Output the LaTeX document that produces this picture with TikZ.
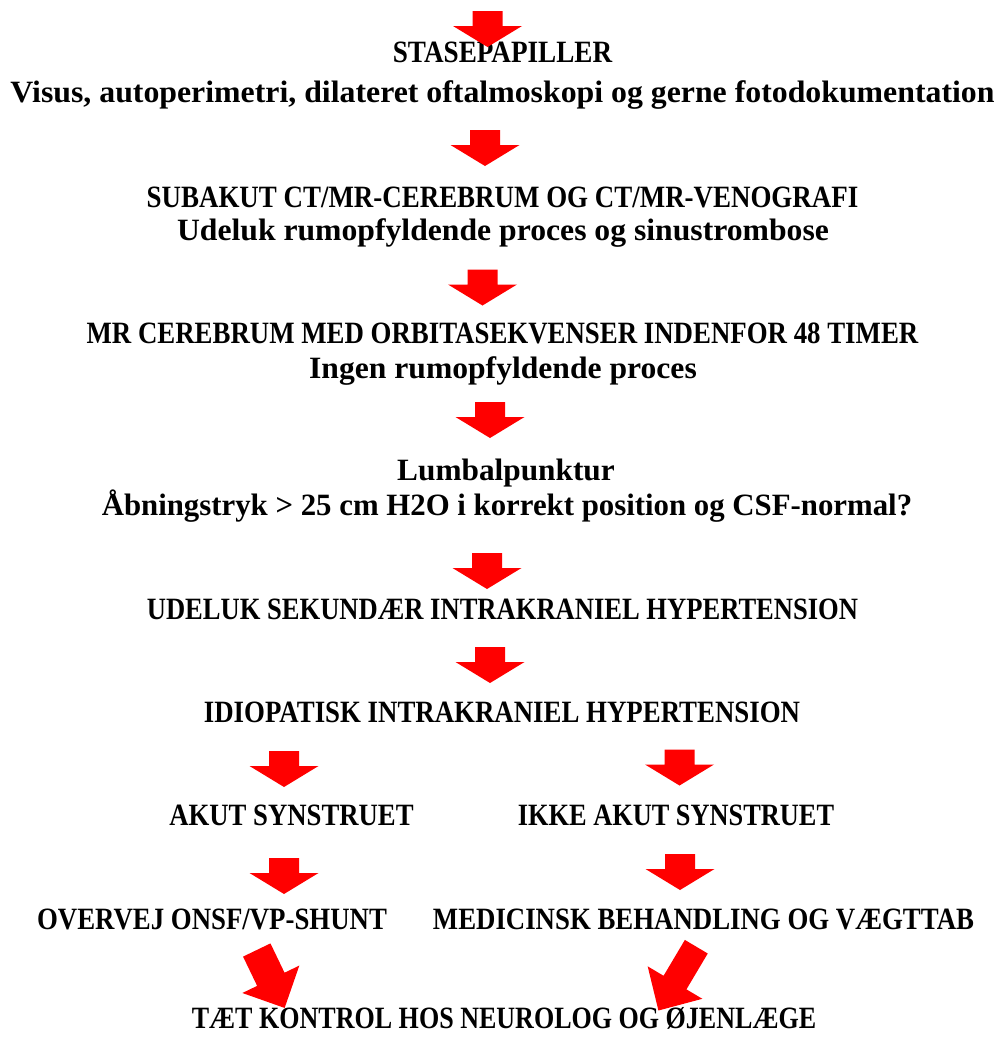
\documentclass[tikz,border=0pt]{standalone}
\usepackage{fontspec}
\usepackage{graphicx}
\setmainfont{Liberation Serif}
\newcommand{\hsc}[2]{\scalebox{#1}[1]{#2}}
\begin{document}
\begin{tikzpicture}[x=1pt,y=-1pt,
  lbl/.style={anchor=base,inner sep=0pt,font=\fontsize{31}{31}\selectfont\bfseries},
  pics/redarrow/.style args={#1/#2/#3/#4}{code={
    \fill[red] (-#2,0) -- (#2,0) -- (#2,#1-#4) -- (#3,#1-#4) -- (0,#1)
      -- (-#3,#1-#4) -- (-#2,#1-#4) -- cycle;}},
  pics/vdown/.style={code={\pic {redarrow={36/15/34.5/21}};}}
]
\useasboundingbox (0,0) rectangle (998,1037);
% texts
\node[lbl] (t1a) at (502.5,62) {\hsc{0.876}{STASEPAPILLER}};
\node[lbl] (t1b) at (502.5,102) {\hsc{1.026}{Visus, autoperimetri, dilateret oftalmoskopi og gerne fotodokumentation}};
\node[lbl] (t2a) at (502.5,207) {\hsc{0.869}{SUBAKUT CT/MR-CEREBRUM OG CT/MR-VENOGRAFI}};
\node[lbl] (t2b) at (503,240) {\hsc{1.022}{Udeluk rumopfyldende proces og sinustrombose}};
\node[lbl] (t3a) at (502.5,343) {\hsc{0.866}{MR CEREBRUM MED ORBITASEKVENSER INDENFOR 48 TIMER}};
\node[lbl] (t3b) at (503,378) {\hsc{1.02}{Ingen rumopfyldende proces}};
\node[lbl] (t4a) at (506,480) {\hsc{1.01}{Lumbalpunktur}};
\node[lbl] (t4b) at (507,515) {\hsc{0.994}{Åbningstryk > 25 cm H2O i korrekt position og CSF-normal?}};
\node[lbl] (t5) at (502.5,619) {\hsc{0.857}{UDELUK SEKUNDÆR INTRAKRANIEL HYPERTENSION}};
\node[lbl] (t6) at (502,722) {\hsc{0.866}{IDIOPATISK INTRAKRANIEL HYPERTENSION}};
\node[lbl] (t7l) at (291.5,825) {\hsc{0.862}{AKUT SYNSTRUET}};
\node[lbl] (t7r) at (676,825) {\hsc{0.85}{IKKE AKUT SYNSTRUET}};
\node[lbl] (t8l) at (212,929) {\hsc{0.865}{OVERVEJ ONSF/VP-SHUNT}};
\node[lbl] (t8r) at (703.5,929) {\hsc{0.865}{MEDICINSK BEHANDLING OG VÆGTTAB}};
\node[lbl] (t9) at (504,1028) {\hsc{0.84}{TÆT KONTROL HOS NEUROLOG OG ØJENLÆGE}};
% arrows
\pic at (487.5,11) {vdown};
\pic at (485,130) {vdown};
\pic at (482.5,269.5) {vdown};
\pic at (490,402) {vdown};
\pic at (487,553) {vdown};
\pic at (490,647) {vdown};
\pic at (284,751) {vdown};
\pic at (679.5,749.5) {vdown};
\pic at (284,858) {vdown};
\pic at (680,854) {vdown};
\pic[rotate=25.7] at (256.75,950) {redarrow={64.3/15.2/31.6/31.8}};
\pic[rotate=-30.7] at (696.3,946.7) {redarrow={74.2/13.3/31.8/32.5}};
\end{tikzpicture}
\end{document}
